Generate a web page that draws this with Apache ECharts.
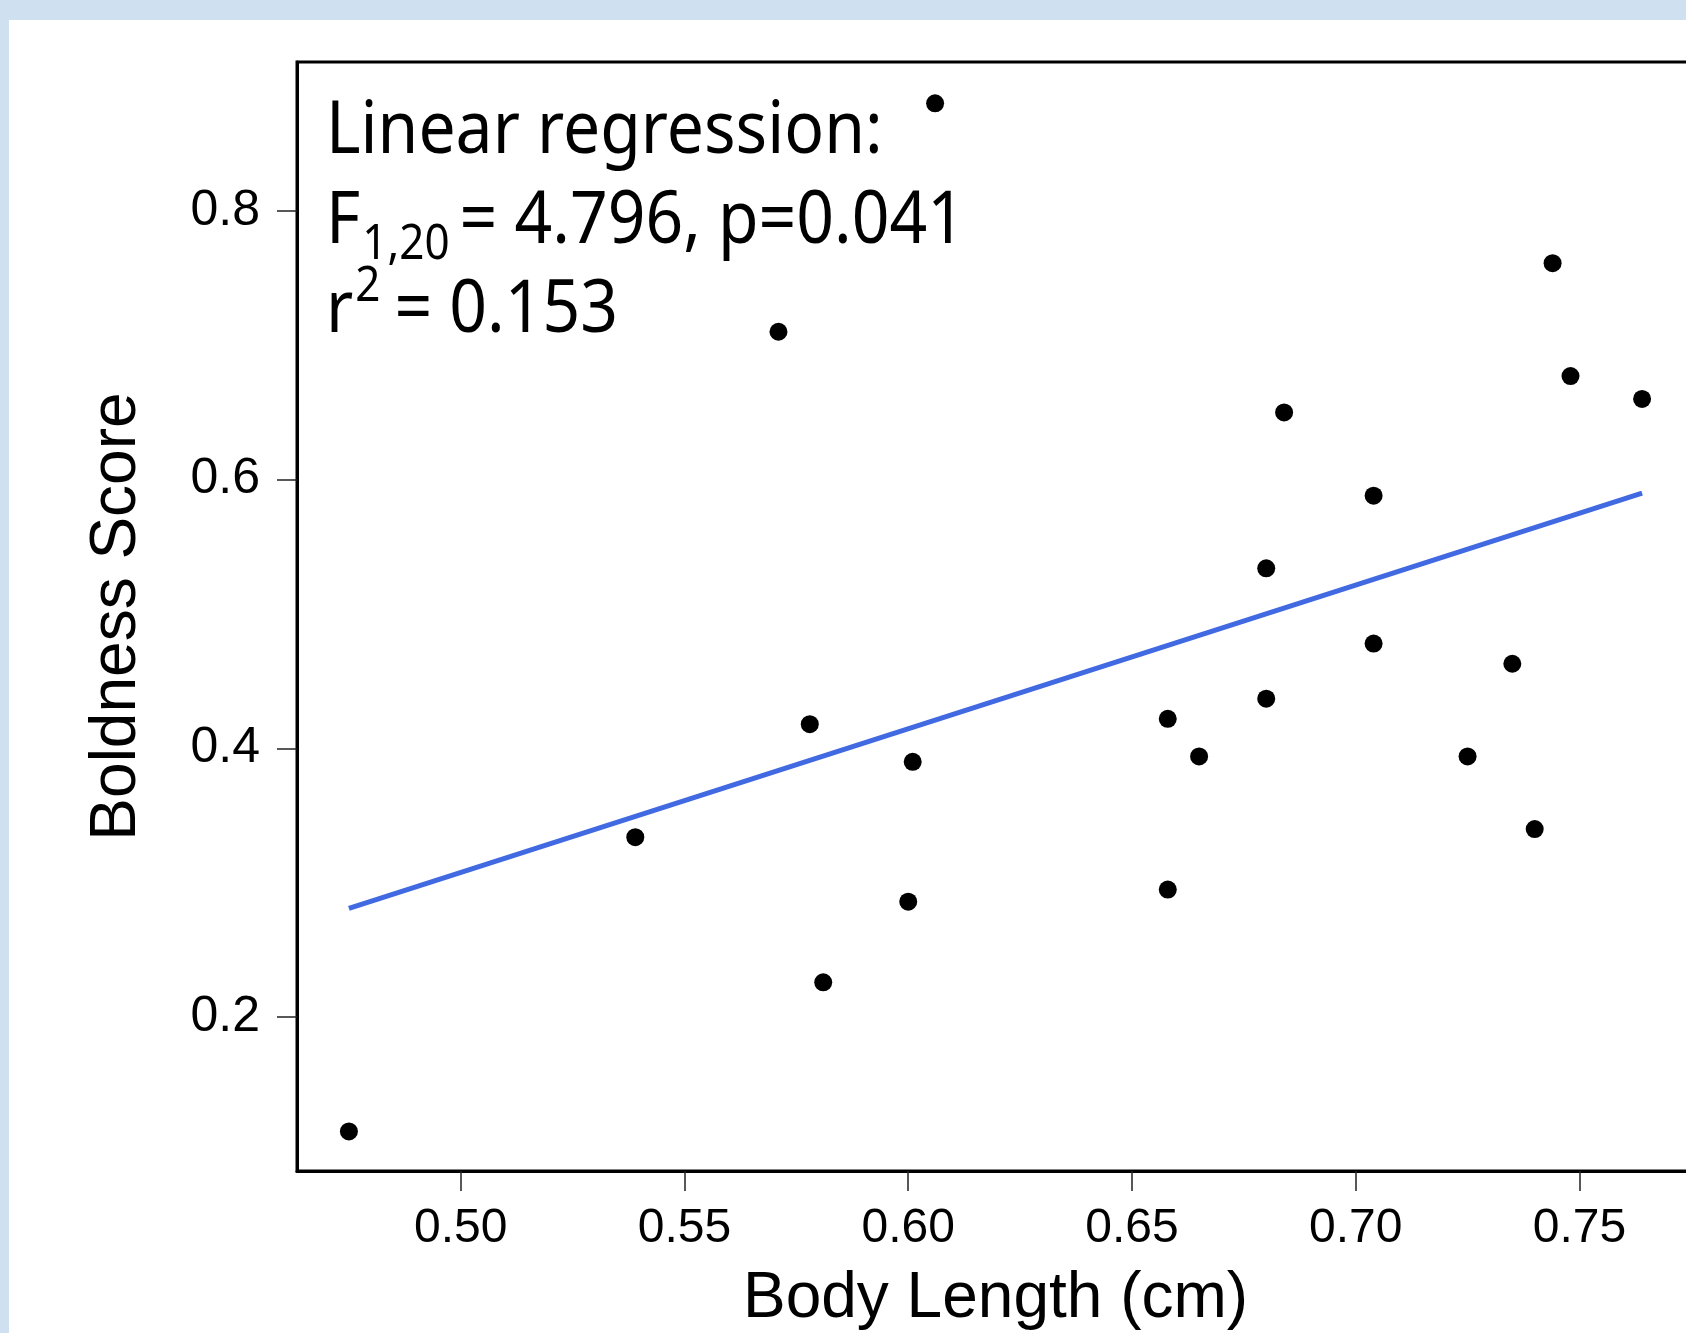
<!DOCTYPE html>
<html>
<head>
<meta charset="utf-8">
<script src="https://cdn.jsdelivr.net/npm/echarts@6/dist/echarts.min.js"></script>
<style>
  html, body { margin:0; padding:0; background:#cfe0f1; width:1686px; height:1333px; overflow:hidden; }
  #chart { position:absolute; left:9px; top:20px; width:1710px; height:1313px; background:#ffffff; }
</style>
</head>
<body>
<div id="chart"></div>
<script>
// Body length (cm) and boldness score for each individual
const bodyLength = [0.475, 0.539, 0.571, 0.578, 0.581, 0.600, 0.601, 0.606, 0.658, 0.658, 0.665,
                    0.680, 0.680, 0.684, 0.704, 0.704, 0.725, 0.735, 0.740, 0.744, 0.748, 0.764];
const boldness   = [0.115, 0.334, 0.710, 0.418, 0.226, 0.286, 0.390, 0.880, 0.422, 0.295, 0.394,
                    0.534, 0.437, 0.650, 0.588, 0.478, 0.394, 0.463, 0.340, 0.761, 0.677, 0.660];
// Fitted regression line end points
const fitX = [0.475, 0.764];
const fitY = [0.281, 0.590];
// Tick labels
const xTicks = [0.50, 0.55, 0.60, 0.65, 0.70, 0.75];
const yTicks = [0.2, 0.4, 0.6, 0.8];
const xRange = [0.4634, 0.7756];
const yRange = [0.0856, 0.9107];
// Annotation text
const annLine1 = 'Linear regression:';
const annF = 'F', annSub = '1,20', annFRest = '= 4.796, p=0.041';
const annR = 'r', annSup = '2', annRRest = '= 0.153';

const chart = echarts.init(document.getElementById('chart'), null, {renderer:'canvas'});
const tickFont = 'Liberation Sans';
const annFont = 'Noto Sans';
const richStyles = {
  m: {fontSize:66, fontFamily:annFont, lineHeight:66, padding:[10,0,0,0], verticalAlign:'top', color:'#000'},
  s: {fontSize:44, fontFamily:annFont, lineHeight:44, padding:[42,10,0,2], verticalAlign:'top', color:'#000'},
  p: {fontSize:44, fontFamily:annFont, lineHeight:44, padding:[0,14,0,2], verticalAlign:'top', color:'#000'}
};
function annText(txt, x, y) {
  return {type:'text', x:x, y:y, z:100, originX:0, originY:63, scaleY:1.11,
    style:{text:txt, rich:richStyles, fill:'#000', align:'left', verticalAlign:'top',
           fontSize:66, fontFamily:annFont}};
}

const option = {
  animation:false,
  backgroundColor:'#ffffff',
  grid:{left:288, top:42, width:1397, height:1109, outerBoundsMode:'none', containLabel:false,
        show:true, borderColor:'#000', borderWidth:3, backgroundColor:'transparent'},
  xAxis:{
    type:'value', min:xRange[0], max:xRange[1],
    axisLine:{show:true, lineStyle:{color:'#000', width:3}},
    splitLine:{show:false},
    axisTick:{show:true, length:20, lineStyle:{color:'#222', width:1.5}, customValues:xTicks},
    axisLabel:{customValues:xTicks, formatter:(v)=>Number(v).toFixed(2), fontSize:48, fontFamily:tickFont, color:'#000', margin:34},
    name:'Body Length (cm)', nameLocation:'middle', nameGap:96,
    nameTextStyle:{fontSize:64, fontFamily:tickFont, color:'#000'}
  },
  yAxis:{
    type:'value', min:yRange[0], max:yRange[1],
    axisLine:{show:true, lineStyle:{color:'#000', width:3}},
    splitLine:{show:false},
    axisTick:{show:true, length:20, lineStyle:{color:'#222', width:1.5}, customValues:yTicks},
    axisLabel:{customValues:yTicks, formatter:(v)=>Number(v).toFixed(1), fontSize:50, fontFamily:tickFont, color:'#000', margin:37},
    name:'Boldness Score', nameLocation:'middle', nameGap:148,
    nameTextStyle:{fontSize:64, fontFamily:tickFont, color:'#000'}
  },
  series:[
    {type:'line', data:fitX.map((x,i)=>[x, fitY[i]]), symbol:'none', silent:true,
     lineStyle:{color:'#4169e1', width:5}, z:2},
    {type:'scatter', data:bodyLength.map((x,i)=>[x, boldness[i]]), symbol:'circle', symbolSize:18,
     itemStyle:{color:'#000', opacity:1}, z:3}
  ],
  graphic:[
    annText('{m|' + annLine1 + '}', 317, 71),
    annText('{m|' + annF + '}{s|' + annSub + '}{m|' + annFRest + '}', 317, 161),
    annText('{m|' + annR + '}{p|' + annSup + '}{m|' + annRRest + '}', 317, 250)
  ]
};
chart.setOption(option);
</script>
</body>
</html>
